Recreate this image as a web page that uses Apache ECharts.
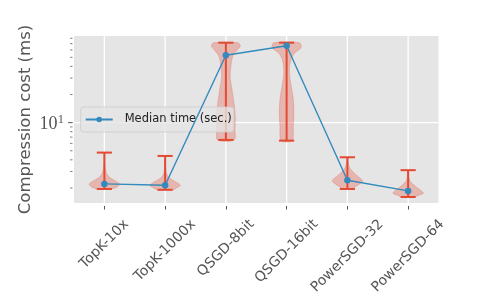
<!DOCTYPE html>
<html>
<head>
<meta charset="utf-8">
<script src="https://cdn.jsdelivr.net/npm/echarts@6/dist/echarts.min.js"></script>
<style>
html,body{margin:0;padding:0;background:#fff;}
#chart{width:488px;height:293px;}
</style>
</head>
<body>
<div id="chart"></div>
<script>
// ---- data ----
const categories = ['TopK-10x', 'TopK-1000x', 'QSGD-8bit', 'QSGD-16bit', 'PowerSGD-32', 'PowerSGD-64'];
const medians = [2.21, 2.14, 52.6, 66.6, 2.42, 1.86];
const mins = [1.95, 1.91, 6.53, 6.42, 1.95, 1.60];
const maxs = [4.78, 4.40, 71.7, 71.7, 4.26, 3.10];
// violin profiles: [value (ms), relative half-width 0..1]
const violinTopK10 = [[1.95,0.45],[2.05,0.85],[2.2,1.0],[2.35,0.78],[2.55,0.4],[2.8,0.18],[3.2,0.07],[3.8,0.03],[4.78,0.02]];
const violinTopK1000 = [[1.91,0.5],[1.99,0.72],[2.12,1.0],[2.25,0.85],[2.44,0.48],[2.63,0.2],[2.9,0.08],[3.4,0.03],[4.40,0.02]];
const violinQSGD8 = [[6.53,0.55],[8.5,0.6],[11.8,0.62],[16.4,0.53],[22.8,0.4],[31.6,0.28],[43.8,0.36],[51.7,0.46],[58.5,0.7],[66.1,0.95],[71.7,0.8]];
const violinQSGD16 = [[6.42,0.36],[9.2,0.44],[12.8,0.48],[17.8,0.44],[24.7,0.3],[31.6,0.2],[40.4,0.2],[49.6,0.33],[56.1,0.55],[63.4,0.95],[71.7,0.85]];
const violinPSGD32 = [[1.95,0.33],[2.04,0.48],[2.21,0.8],[2.38,1.0],[2.54,0.85],[2.88,0.45],[3.28,0.15],[3.83,0.05],[4.26,0.02]];
const violinPSGD64 = [[1.60,0.4],[1.66,0.66],[1.76,1.0],[1.87,0.85],[2.07,0.5],[2.34,0.15],[2.69,0.04],[3.10,0.02]];
const violinProfiles = [violinTopK10, violinTopK1000, violinQSGD8, violinQSGD16, violinPSGD32, violinPSGD64];
const yRange = [1.38, 84.6];
const yMajorTicks = [10];
const yMinorTicks = [2, 3, 4, 5, 6, 7, 8, 9, 20, 30, 40, 50, 60, 70, 80];
const legendName = 'Median time (sec.)';

// ---- styles ----
const RED = '#E24A33';
const BLUE = '#348ABD';
const FONT = 'DejaVu Sans';
const LABEL_SIZE = 14;

// per-label padding so rotated labels are top-aligned (matplotlib style)
const mctx = document.createElement('canvas').getContext('2d');
mctx.font = LABEL_SIZE + 'px "' + FONT + '"';
const labelW = categories.map(c => mctx.measureText(c).width);
const wMax = Math.max.apply(null, labelW);
const rich = {};
categories.forEach((c, i) => {
  const p = 0.5 * (wMax - labelW[i]);
  rich['l' + i] = { padding: [0, 0, p, p], fontSize: LABEL_SIZE, fontFamily: FONT, color: '#555' };
});

function bandOf(api) {
  return api.coord([1, 10])[0] - api.coord([0, 10])[0];
}

const chart = echarts.init(document.getElementById('chart'), null, { renderer: 'canvas' });
const option = {
  animation: false,
  grid: {
    left: 74, right: 49.5, top: 36, bottom: 90,
    show: true, backgroundColor: '#E5E5E5', borderWidth: 0,
    outerBoundsMode: 'none', containLabel: false
  },
  legend: {
    data: [legendName],
    left: 80.7, top: 107,
    orient: 'vertical',
    padding: [5, 2, 5, 4],
    itemWidth: 27, itemHeight: 7,
    backgroundColor: 'rgba(229,229,229,0.8)',
    borderColor: 'rgba(204,204,204,0.8)', borderWidth: 1, borderRadius: 3,
    textStyle: { fontFamily: FONT, fontSize: 11.5, color: '#222', padding: [0, 0, 0, 7], lineHeight: 15 },
    selectedMode: false
  },
  xAxis: {
    type: 'category',
    data: categories,
    offset: 3,
    axisLine: { show: false },
    axisTick: { show: true, alignWithLabel: true, length: 3.5, lineStyle: { color: '#555', width: 1 } },
    splitLine: { show: false },
    axisLabel: {
      interval: 0, rotate: 45, align: 'center', verticalAlign: 'middle',
      margin: 50,
      formatter: (v, i) => '{l' + i + '|' + v + '}',
      rich: rich
    }
  },
  yAxis: {
    type: 'log', logBase: 10,
    min: yRange[0], max: yRange[1],
    axisLine: { show: false }, axisTick: { show: false },
    axisLabel: { show: false }, splitLine: { show: false }, minorTick: { show: false },
    name: 'Compression cost (ms)', nameLocation: 'middle', nameGap: 40,
    nameTextStyle: { fontFamily: FONT, fontSize: 16.5, color: '#555' }
  },
  series: [
    { // vertical gridlines at category centres
      type: 'custom', name: 'xgrid', z: 1, silent: true,
      data: categories.map((c, i) => [i, 10]),
      renderItem: function (params, api) {
        const cs = params.coordSys;
        const x = api.coord([api.value(0), 10])[0];
        return { type: 'line', shape: { x1: x, y1: cs.y, x2: x, y2: cs.y + cs.height },
          style: { stroke: '#ffffff', lineWidth: 1.3 } };
      }
    },
    { // major y gridline, tick, label
      type: 'custom', name: 'ymajor', z: 1, silent: true,
      data: yMajorTicks.map(v => [0, v]),
      renderItem: function (params, api) {
        const cs = params.coordSys;
        const v = api.value(1);
        const y = api.coord([0, v])[1];
        const exp = Math.round(Math.log10(v));
        return { type: 'group', children: [
          { type: 'line', shape: { x1: cs.x, y1: y, x2: cs.x + cs.width, y2: y }, style: { stroke: '#ffffff', lineWidth: 1.3 } },
          { type: 'line', shape: { x1: cs.x - 6, y1: y, x2: cs.x - 1.3, y2: y }, style: { stroke: '#555', lineWidth: 1 } },
          { type: 'text', style: { text: '10', x: cs.x - 16.5, y: y + 1.2, align: 'right', verticalAlign: 'middle',
              font: '18px "Liberation Serif"', fill: '#555' } },
          { type: 'text', style: { text: String(exp), x: cs.x - 16.3, y: y - 2.6, align: 'left', verticalAlign: 'middle',
              font: '12.5px "Liberation Serif"', fill: '#555' } }
        ] };
      }
    },
    { // minor y ticks
      type: 'custom', name: 'yminor', z: 1, silent: true,
      data: yMinorTicks.map(v => [0, v]),
      renderItem: function (params, api) {
        const cs = params.coordSys;
        const y = api.coord([0, api.value(1)])[1];
        return { type: 'line', shape: { x1: cs.x - 4, y1: y, x2: cs.x - 1.5, y2: y }, style: { stroke: '#666', lineWidth: 0.8 } };
      }
    },
    { // violins
      type: 'custom', name: 'violins', z: 2, silent: true,
      data: categories.map((c, i) => [i, mins[i], maxs[i]]),
      encode: { x: 0, y: [1, 2] },
      renderItem: function (params, api) {
        const i = api.value(0);
        const prof = violinProfiles[i];
        const cx = api.coord([i, 10])[0];
        const halfMax = bandOf(api) * 0.25;
        const right = prof.map(p => [cx + p[1] * halfMax, api.coord([i, p[0]])[1]]);
        const left = prof.slice().reverse().map(p => [cx - p[1] * halfMax, api.coord([i, p[0]])[1]]);
        return { type: 'polygon', shape: { points: right.concat(left), smooth: 0.3 },
          style: { fill: 'rgba(226,74,51,0.3)', stroke: 'rgba(226,74,51,0.3)', lineWidth: 0.8 } };
      }
    },
    { // whiskers (min/max bars with caps)
      type: 'custom', name: 'extrema', z: 3, silent: true,
      data: categories.map((c, i) => [i, mins[i], maxs[i]]),
      encode: { x: 0, y: [1, 2] },
      renderItem: function (params, api) {
        const i = api.value(0);
        const lo = api.coord([i, api.value(1)]);
        const hi = api.coord([i, api.value(2)]);
        const cap = bandOf(api) * 0.125;
        const st = { stroke: RED, lineWidth: 2 };
        return { type: 'group', children: [
          { type: 'line', shape: { x1: lo[0], y1: lo[1], x2: hi[0], y2: hi[1] }, style: st },
          { type: 'line', shape: { x1: lo[0] - cap, y1: lo[1], x2: lo[0] + cap, y2: lo[1] }, style: st },
          { type: 'line', shape: { x1: hi[0] - cap, y1: hi[1], x2: hi[0] + cap, y2: hi[1] }, style: st }
        ] };
      }
    },
    {
      type: 'line', name: legendName, z: 4,
      data: medians,
      symbol: 'circle', symbolSize: 6.5,
      lineStyle: { color: BLUE, width: 1.4 },
      itemStyle: { color: BLUE }
    }
  ]
};
chart.setOption(option);
</script>
</body>
</html>
